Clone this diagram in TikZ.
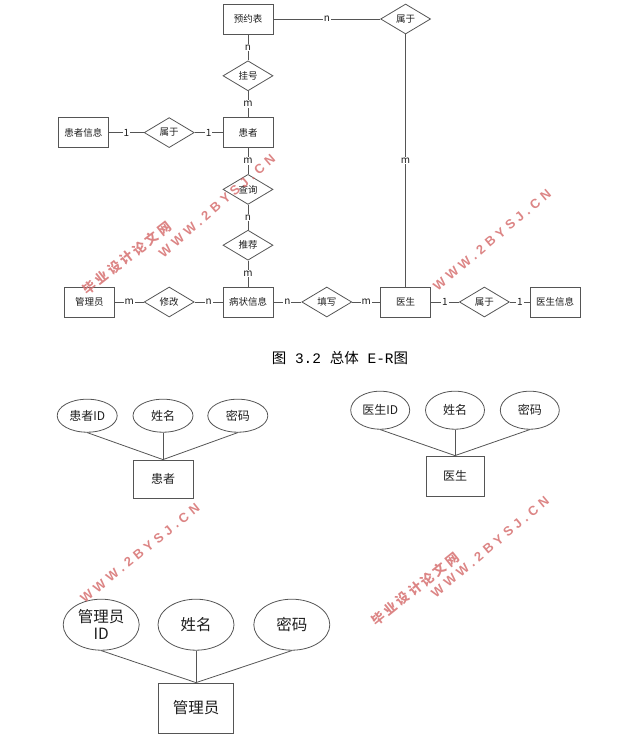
\documentclass[tikz,border=0pt]{standalone}
\usepackage{fontspec}
\usepackage{xcolor}
\usepackage{tikz}
\usetikzlibrary{shapes.geometric, positioning}
\setmainfont{Noto Sans CJK SC}
\newfontfamily\capmono{Liberation Mono}
\newfontfamily\wmlatin{Liberation Sans}[LetterSpace=32]
\newfontfamily\wmcjk{Noto Sans CJK SC}[LetterSpace=22]
\definecolor{erline}{RGB}{85,85,85}
\definecolor{ertext}{RGB}{30,30,30}
\definecolor{wmred}{RGB}{214,112,112}
\tikzset{
  entity/.style   = {rectangle, draw=erline, line width=0.8pt, text=ertext,
                     minimum width=50pt, minimum height=30pt, inner sep=1pt,
                     font=\fontsize{9.5}{11}\selectfont},
  relation/.style = {diamond, draw=erline, line width=0.8pt, text=ertext, aspect=1.67,
                     minimum width=50pt, minimum height=30pt, inner sep=0pt,
                     font=\fontsize{9.5}{11}\selectfont},
  attr/.style     = {ellipse, draw=erline, line width=0.8pt, text=ertext,
                     inner sep=0pt, align=center},
  link/.style     = {draw=erline, line width=0.8pt},
  card/.style     = {font=\fontsize{10}{11}\selectfont, text=ertext, fill=white, inner sep=1pt},
  wmark/.style    = {text=wmred, opacity=0.85, font=\fontsize{13}{13}\selectfont},
}

\begin{document}
\begin{tikzpicture}[x=1pt, y=-1pt]
\useasboundingbox (0,0) rectangle (625,749);

% ---------- Overall E-R: central column ----------
\node[entity] (record) at (248,302) {病状信息};
\node[relation, above=26pt of record] (recommend) {推荐};
\node[relation, above=25pt of recommend] (query) {查询};
\node[entity, above=26pt of query] (patient) {患者};
\node[relation, above=26pt of patient] (register) {挂号};
\node[entity, above=26pt of register] (booking) {预约表};

% left side
\node[relation, left=28pt of patient] (belong1) {属于};
\node[entity, left=35pt of belong1] (pinfo) {患者信息};
\node[relation, left=28pt of record] (modify) {修改};
\node[entity, left=29pt of modify] (admin) {管理员};

% right side
\node[relation, right=28pt of record] (write) {填写};
\node[entity, right=28pt of write] (doctor) {医生};
\node[relation, right=28pt of doctor] (belong2) {属于};
\node[entity, right=20pt of belong2] (dinfo) {医生信息};
\node[relation] (belong3) at (doctor |- booking) {属于};

% ---------- Edges ----------
\draw[link] (booking) -- node[card]{n} (register);
\draw[link] (register) -- node[card]{m} (patient);
\draw[link] (patient) -- node[card]{m} (query);
\draw[link] (query) -- node[card]{n} (recommend);
\draw[link] (recommend) -- node[card]{m} (record);
\draw[link] (pinfo) -- node[card]{1} (belong1);
\draw[link] (belong1) -- node[card]{1} (patient);
\draw[link] (admin) -- node[card]{m} (modify);
\draw[link] (modify) -- node[card]{n} (record);
\draw[link] (record) -- node[card]{n} (write);
\draw[link] (write) -- node[card]{m} (doctor);
\draw[link] (doctor) -- node[card]{1} (belong2);
\draw[link] (belong2) -- node[card]{1} (dinfo);
\draw[link] (booking) -- node[card]{n} (belong3);
\draw[link] (belong3) -- node[card]{m} (doctor);

\node[font=\fontsize{14.5}{15}\selectfont, text=black] (caption) at (340,358)
  {图{\capmono{} 3.2 }总体{\capmono{} E-R}图};

% ---------- Patient attributes ----------
\node[entity, minimum width=60pt, minimum height=38pt, font=\fontsize{12}{13}\selectfont] (pbox) at (163,479) {患者};
\node[attr, minimum width=60pt, minimum height=33pt, font=\fontsize{12}{13}\selectfont, above=27pt of pbox] (pname) {姓名};
\node[attr, minimum width=60pt, minimum height=33pt, font=\fontsize{12}{13}\selectfont, left=15pt of pname] (pid) {患者ID};
\node[attr, minimum width=60pt, minimum height=33pt, font=\fontsize{12}{13}\selectfont, right=14pt of pname] (ppwd) {密码};
\draw[link] (pid.south) -- (pbox.north);
\draw[link] (pname.south) -- (pbox.north);
\draw[link] (ppwd.south) -- (pbox.north);

% ---------- Doctor attributes ----------
\node[entity, minimum width=58pt, minimum height=40pt, font=\fontsize{12}{13}\selectfont] (dbox) at (455,476) {医生};
\node[attr, minimum width=59pt, minimum height=38pt, font=\fontsize{12}{13}\selectfont, above=26pt of dbox] (dname) {姓名};
\node[attr, minimum width=59pt, minimum height=38pt, font=\fontsize{12}{13}\selectfont, left=15pt of dname] (did) {医生ID};
\node[attr, minimum width=59pt, minimum height=38pt, font=\fontsize{12}{13}\selectfont, right=15pt of dname] (dpwd) {密码};
\draw[link] (did.south) -- (dbox.north);
\draw[link] (dname.south) -- (dbox.north);
\draw[link] (dpwd.south) -- (dbox.north);

% ---------- Admin attributes ----------
\node[entity, minimum width=75pt, minimum height=50pt, font=\fontsize{15.5}{17}\selectfont] (abox) at (196,708) {管理员};
\node[attr, minimum width=76pt, minimum height=51pt, font=\fontsize{15.5}{17}\selectfont, above=32pt of abox] (aname) {姓名};
\node[attr, minimum width=76pt, minimum height=51pt, font=\fontsize{15.5}{17}\selectfont, left=18pt of aname] (aid) {管理员\\ID};
\node[attr, minimum width=76pt, minimum height=51pt, font=\fontsize{15.5}{17}\selectfont, right=19pt of aname] (apwd) {密码};
\draw[link] (aid.south) -- (abox.north);
\draw[link] (aname.south) -- (abox.north);
\draw[link] (apwd.south) -- (abox.north);

% ---------- Watermarks ----------
\node[wmark, rotate=38] (wm1) at (127,258) {\wmcjk\bfseries 毕业设计论文网};
\node[wmark, rotate=41] (wm2) at (217,206) {\wmlatin\bfseries WWW.2BYSJ.CN};
\node[wmark, rotate=40] (wm3) at (492,240) {\wmlatin\bfseries WWW.2BYSJ.CN};
\node[wmark, rotate=39] (wm4) at (140,553) {\wmlatin\bfseries WWW.2BYSJ.CN};
\node[wmark, rotate=39] (wm5) at (415,589) {\wmcjk\bfseries 毕业设计论文网};
\node[wmark, rotate=40] (wm6) at (490,547) {\wmlatin\bfseries WWW.2BYSJ.CN};

\end{tikzpicture}
\end{document}
